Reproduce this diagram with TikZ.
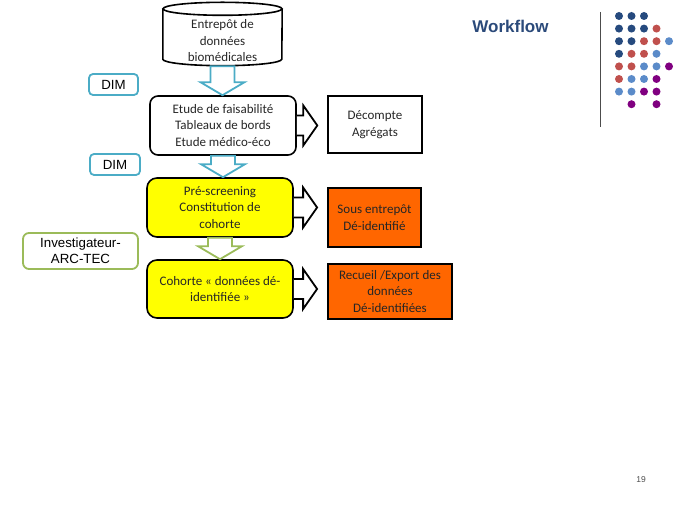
\documentclass[tikz,border=0pt]{standalone}
\usepackage{fontspec}
\setmainfont{Carlito}
\newfontfamily\arialfont{Liberation Sans}
\usetikzlibrary{calc}

\definecolor{dimteal}{HTML}{4BACC6}
\definecolor{invgreen}{HTML}{9BBB59}
\definecolor{boxyellow}{HTML}{FFFF00}
\definecolor{boxorange}{HTML}{FF6600}
\definecolor{titleblue}{HTML}{2B4A7A}
\definecolor{dotD}{HTML}{264A7E}
\definecolor{dotR}{HTML}{C0504D}
\definecolor{dotL}{HTML}{5B8BC9}
\definecolor{dotP}{HTML}{800080}
\definecolor{dotN}{HTML}{FFFFFF}

\tikzset{
  boxtext/.style={align=center, font=\fontsize{13}{16.5}\selectfont, text=black!85, inner sep=1pt},
  flowbox/.style={boxtext, draw=black, line width=1.6pt, rounded corners=8pt, minimum width=146pt, minimum height=59pt},
  yellowbox/.style={flowbox, fill=boxyellow, rounded corners=10pt},
  outbox/.style={boxtext, draw=black, line width=1.4pt, minimum height=57pt},
  orangebox/.style={outbox, fill=boxorange, line width=1.8pt},
  rolebox/.style={align=center, font=\arialfont\fontsize{13.3}{16}\selectfont, fill=white, line width=1.8pt, inner sep=1pt},
  dimbox/.style={rolebox, draw=dimteal, rounded corners=4pt, minimum width=49pt, minimum height=21pt},
  invbox/.style={rolebox, draw=invgreen, rounded corners=6pt, minimum width=115pt, minimum height=36pt},
  cylline/.style={draw=black, line width=1.6pt},
  blkarrow/.style={line width=1.8pt, fill=white, line join=miter},
}

% block arrow going down from one node to the next
\newcommand{\blkdown}[3]{%
  \filldraw[blkarrow,draw=#1] let \p1=(#2.south), \p2=(#3.north) in
    (\x1-12pt,\y1) -- (\x1-12pt,\y2+13pt) -- (\x1-22pt,\y2+13pt) -- (\x1,\y2)
    -- (\x1+22pt,\y2+13pt) -- (\x1+12pt,\y2+13pt) -- (\x1+12pt,\y1) -- cycle;}
% block arrow going right, stopping short of the target
\newcommand{\blkright}[2]{%
  \filldraw[blkarrow,draw=black] let \p1=(#1.east), \p2=(#2.west) in
    (\x1,\y1+10pt) -- (\x2-24pt,\y1+10pt) -- (\x2-24pt,\y1+20pt) -- (\x2-10pt,\y1)
    -- (\x2-24pt,\y1-20pt) -- (\x2-24pt,\y1-10pt) -- (\x1,\y1-10pt);}

\begin{document}
\begin{tikzpicture}[x=1pt,y=1pt]
  \useasboundingbox (0,0) rectangle (689,517);

  % title, separator and dots
  \node[font=\arialfont\bfseries\fontsize{17}{20}\selectfont, text=titleblue, anchor=base] (title) at (510.5,484.3) {Workflow};
  \draw[black!70, line width=1pt] (600,505) -- (600,390);
  \foreach \lst [count=\r] in {{D,D,D},{D,D,D,R},{D,D,R,R,L},{D,R,R,L},{R,R,L,L,P},{R,L,L,P},{L,L,P,P},{N,P,N,P}}
    \foreach \c [count=\i] in \lst
      \fill[dot\c] (606.5+12.5*\i, 513.6-12.6*\r) circle (4);
  \node[font=\arialfont\fontsize{8.5}{10}\selectfont, text=black!70, anchor=base] (pagenum) at (641,34) {19};

  % warehouse
  \node[boxtext, minimum width=119pt, minimum height=50pt, inner sep=0pt] (cyl) at (222.5,476) {Entrepôt de\\données\\biomédicales};
  \draw[cylline] ([yshift=7pt]cyl.north west) -- ([yshift=7pt]cyl.south west)
    arc[start angle=180, end angle=360, x radius=59.5pt, y radius=6.5pt] -- ([yshift=7pt]cyl.north east);
  \draw[cylline] ([yshift=7pt]cyl.north) ellipse [x radius=59.5pt, y radius=6.5pt];

  % main flow
  \node[flowbox] (etude) at (223,391.5) {Etude de faisabilité\\Tableaux de bords\\Etude médico-éco};
  \node[yellowbox] (prescr) at (220,309.5) {Pré-screening\\Constitution de\\cohorte};
  \node[yellowbox, minimum height=58pt] (cohorte) at (220,228) {Cohorte « données dé-\\identifiée »};

  % outputs
  \node[outbox, minimum width=94pt] (decompte) at (375,392.5) {Décompte\\Agrégats};
  \node[orangebox, minimum width=93pt, minimum height=59pt] (sous) at (374.5,299.5) {Sous entrepôt\\Dé-identifié};
  \node[orangebox, minimum width=124pt, minimum height=55pt] (recueil) at (390,225.5) {Recueil /Export des\\données\\Dé-identifiées};

  % roles
  \node[dimbox] (dim1) at (113.5,432.5) {DIM};
  \node[dimbox, minimum width=50pt] (dim2) at (115,352.5) {DIM};
  \node[invbox] (invest) at (80.5,266) {Investigateur-\\ARC-TEC};

  % arrows
  \blkdown{dimteal}{cyl}{etude}
  \blkdown{dimteal}{etude}{prescr}
  \blkdown{invgreen}{prescr}{cohorte}
  \blkright{etude}{decompte}
  \blkright{prescr}{sous}
  \blkright{cohorte}{recueil}
\end{tikzpicture}
\end{document}
